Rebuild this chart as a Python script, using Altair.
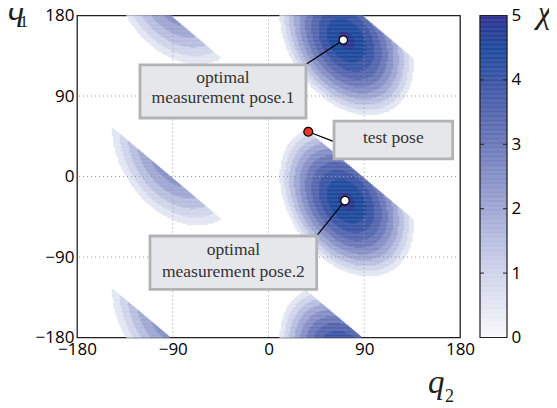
import numpy as np
import pandas as pd
import altair as alt

alt.data_transformers.disable_max_rows()

# ---------------- axes ----------------
q_ticks = [-180, -90, 0, 90, 180]
grid_vals = [-90, 0, 90]
cbar_ticks = [0, 1, 2, 3, 4, 5]
cbar_inner_ticks = [1, 2, 3, 4]

# ---------------- contour levels & colours ----------------
levels = [0.0, 0.5, 1.0, 1.5, 2.0, 2.5, 3.0, 3.5, 4.0, 4.5, 5.0]
level_colors = ["#fafafc", "#e3e6f2", "#d0d5eb", "#b8bfe0", "#9fa7d3", "#8690c7",
                "#6c79b9", "#5566ae", "#3a55a5", "#1f4a9c", "#2f3490"]

# ---------------- lobes of the chi field ----------------
# centre in (q2, q1) degrees; sizes are measured on the drawn plot (screen units)
lobe_q2 = [73.5, -85.1]
lobe_q1 = [-27.5, 27.4]
lobe_major = [88.0, 88.3]     # long semi-axis
lobe_minor = [60.8, 62.9]     # short semi-axis
lobe_tilt = [55.0, 55.0]      # long axis direction, degrees below horizontal on screen
lobe_pow = [1.6, 1.6]         # fall-off exponent
lobe_peak = [5.15, 3.4]
lobe_strip = [0, -1]          # diagonal strip the lobe shows in
cut_sum = 88.0                # field edge along q1 + q2 = cut_sum (mod 180)
q1_period = 180.0

# ---------------- annotations ----------------
opt_q2 = [70.3, 71.9]
opt_q1 = [152.6, -27.0]
test_q2 = [37.4]
test_q1 = [50.0]
box_q2a = [-120.8, -111.4, 61.6]
box_q2b = [35.2, 45.3, 173.1]
box_q1a = [65.4, -126.1, 19.6]
box_q1b = [124.7, -66.5, 62.0]
link_q2a = [70.3, 71.9, 37.4]
link_q1a = [152.6, -27.0, 50.0]
link_q2b = [34.3, 45.3, 61.6]
link_q1b = [124.6, -66.5, 39.0]
note_text = ["optimal", "measurement pose.1", "optimal", "measurement pose.2", "test pose"]
note_q2 = [-42.8, -42.8, -33.0, -33.0, 117.3]
note_q1 = [104.5, 82.2, -87.8, -112.0, 37.1]

W, H = 383, 322

# ---------------- build the banded field ----------------
kx, ky = W / 360.0, H / 360.0
step = 1.5
q2c = np.arange(-180 + step / 2, 180, step)
q1c = np.arange(-180 + step / 2, 180, step)
Q2, Q1 = np.meshgrid(q2c, q1c)
S = Q1 + Q2
chi = np.zeros_like(Q1)
for i in range(len(lobe_q2)):
    t = np.deg2rad(lobe_tilt[i])
    for k in range(-3, 4):
        X = (Q2 - lobe_q2[i]) * kx
        Y = -(Q1 - (lobe_q1[i] + q1_period * k)) * ky
        u = (X * np.cos(t) + Y * np.sin(t)) / lobe_major[i]
        v = (-X * np.sin(t) + Y * np.cos(t)) / lobe_minor[i]
        rho = np.sqrt(u ** 2 + v ** 2)
        f = lobe_peak[i] * (1 - rho ** lobe_pow[i])
        hi = cut_sum + q1_period * (k + lobe_strip[i])
        inside = (S < hi) & (S >= hi - q1_period)
        chi = np.maximum(chi, np.where(inside, f, 0.0))
band = np.clip(np.floor(chi / 0.5 + 1e-9) * 0.5, 0, 5)

rows = []
n = len(q2c)
for j in range(len(q1c)):
    row = band[j]
    i = 0
    while i < n:
        val = row[i]
        s = i
        while i < n and row[i] == val:
            i += 1
        if val > 0:
            rows.append(dict(q2a=q2c[s] - step / 2, q2b=q2c[i - 1] + step / 2,
                             q1a=q1c[j] - step / 2, q1b=q1c[j] + step / 2, chi=float(val)))
field = pd.DataFrame(rows)

cb0 = np.round(np.arange(0, 5, 0.02), 4)
cbdf = pd.DataFrame({"c0": cb0, "c1": cb0 + 0.02, "cv": cb0 + 0.01})

# ---------------- chart ----------------
LABEL_FONT = "Open Sans"
xs = alt.Scale(domain=[-180, 180], nice=False, zero=False)
ys = alt.Scale(domain=[-180, 180], nice=False, zero=False)
cs = alt.Scale(domain=[0, 5], range=level_colors, interpolate="rgb")
cbs = alt.Scale(domain=[0, 5], nice=False, zero=False)

xaxis = alt.Axis(values=q_ticks, title=None, grid=False, ticks=False, domain=False,
                 labelFlush=False, labelOverlap=False, labelFont=LABEL_FONT,
                 labelFontSize=17, labelColor="black", labelPadding=4)
yaxis = alt.Axis(values=q_ticks, title=None, grid=False, ticks=False, domain=False,
                 labelFlush=False, labelOverlap=False, labelFont=LABEL_FONT,
                 labelFontSize=17, labelColor="black", labelPadding=3)

contour = alt.Chart(field).mark_rect(strokeWidth=0.5).encode(
    x=alt.X("q2a:Q", scale=xs, axis=xaxis), x2="q2b:Q",
    y=alt.Y("q1a:Q", scale=ys, axis=yaxis), y2="q1b:Q",
    color=alt.Color("chi:Q", scale=cs, legend=None),
    stroke=alt.Stroke("chi:Q", scale=cs, legend=None),
)

gdf = pd.DataFrame({"g": grid_vals})
vgrid = alt.Chart(gdf).mark_rule(color="#9a9a9a", strokeDash=[1, 3], strokeWidth=1).encode(
    x=alt.X("g:Q", scale=xs))
hgrid = alt.Chart(gdf).mark_rule(color="#9a9a9a", strokeDash=[1, 3], strokeWidth=1).encode(
    y=alt.Y("g:Q", scale=ys))

links = alt.Chart(pd.DataFrame({"a": link_q2a, "b": link_q1a, "c": link_q2b, "d": link_q1b})).mark_rule(
    color="black", strokeWidth=1.2).encode(
    x=alt.X("a:Q", scale=xs), y=alt.Y("b:Q", scale=ys), x2="c:Q", y2="d:Q")

boxes = alt.Chart(pd.DataFrame({"a": box_q2a, "b": box_q2b, "c": box_q1a, "d": box_q1b})).mark_rect(
    fill="#e6e7eb", stroke="#b2b3b6", strokeWidth=2.8).encode(
    x=alt.X("a:Q", scale=xs), x2="b:Q", y=alt.Y("c:Q", scale=ys), y2="d:Q")

notes = alt.Chart(pd.DataFrame({"t": note_text, "x": note_q2, "y": note_q1})).mark_text(
    font="Liberation Serif", fontSize=17.5, color="#333333", align="center", baseline="alphabetic").encode(
    x=alt.X("x:Q", scale=xs), y=alt.Y("y:Q", scale=ys), text="t:N")

opt_pts = alt.Chart(pd.DataFrame({"x": opt_q2, "y": opt_q1})).mark_circle(
    size=70, color="white", opacity=1, stroke="black", strokeWidth=1.2).encode(
    x=alt.X("x:Q", scale=xs), y=alt.Y("y:Q", scale=ys))
test_pts = alt.Chart(pd.DataFrame({"x": test_q2, "y": test_q1})).mark_circle(
    size=80, color="#e8372a", opacity=1, stroke="black", strokeWidth=1.2).encode(
    x=alt.X("x:Q", scale=xs), y=alt.Y("y:Q", scale=ys))

one = pd.DataFrame({"k": [0]})


def label(txt, x, y, size, italic):
    return alt.Chart(one).mark_text(
        font="Liberation Serif", fontSize=size, fontStyle="italic" if italic else "normal",
        color="#231f20", align="left", baseline="alphabetic").encode(
        x=alt.value(x), y=alt.value(y), text=alt.value(txt))


titles = [
    label("q", -69, 4.5, 33, True),
    label("1", -57.5, 11.2, 17.5, False),
    label("q", 351, 377.5, 33, True),
    label("2", 368, 386.5, 18, False),
    label("\u03c7", 459.7, 7.5, 34, True),
]

main = alt.layer(contour, vgrid, hgrid, links, boxes, notes, opt_pts, test_pts, *titles)

CB_L, CB_R = 403, 430
cb_axis = alt.Axis(
    orient="right", offset=CB_R - W, values=cbar_ticks, ticks=False, domain=False,
    grid=False, title=None, labelFont=LABEL_FONT, labelFontSize=17,
    labelColor="black", labelPadding=4, labelFlush=False, labelOverlap=False)
cbar_rect = alt.Chart(cbdf).mark_rect(strokeWidth=0.5).encode(
    x=alt.value(CB_L), x2=alt.value(CB_R),
    y=alt.Y("c0:Q", scale=cbs, axis=cb_axis),
    y2="c1:Q",
    color=alt.Color("cv:Q", scale=cs, legend=None),
    stroke=alt.Stroke("cv:Q", scale=cs, legend=None),
)
tdf = pd.DataFrame({"v": cbar_inner_ticks})
cb_tick_l = alt.Chart(tdf).mark_rule(color="#231f20", strokeWidth=1).encode(
    x=alt.value(CB_L), x2=alt.value(CB_L + 4), y=alt.Y("v:Q", scale=cbs, axis=cb_axis))
cb_tick_r = alt.Chart(tdf).mark_rule(color="#231f20", strokeWidth=1).encode(
    x=alt.value(CB_R - 4), x2=alt.value(CB_R), y=alt.Y("v:Q", scale=cbs, axis=cb_axis))
cb_frame = alt.Chart(one).mark_rect(fillOpacity=0, stroke="#231f20", strokeWidth=1.2).encode(
    x=alt.value(CB_L), x2=alt.value(CB_R), y=alt.value(0), y2=alt.value(H))

cbar = alt.layer(cbar_rect, cb_tick_l, cb_tick_r, cb_frame)

chart = alt.layer(main, cbar).resolve_scale(
    y="independent", color="independent", stroke="independent"
).properties(
    width=W, height=H,
    autosize=alt.AutoSizeParams(type="none"),
    padding={"left": 69, "top": 7.5, "right": 89, "bottom": 70},
).configure_view(stroke="#231f20", strokeWidth=1.3)

chart.save("out.html", embed_options={"renderer": "svg", "actions": False})
